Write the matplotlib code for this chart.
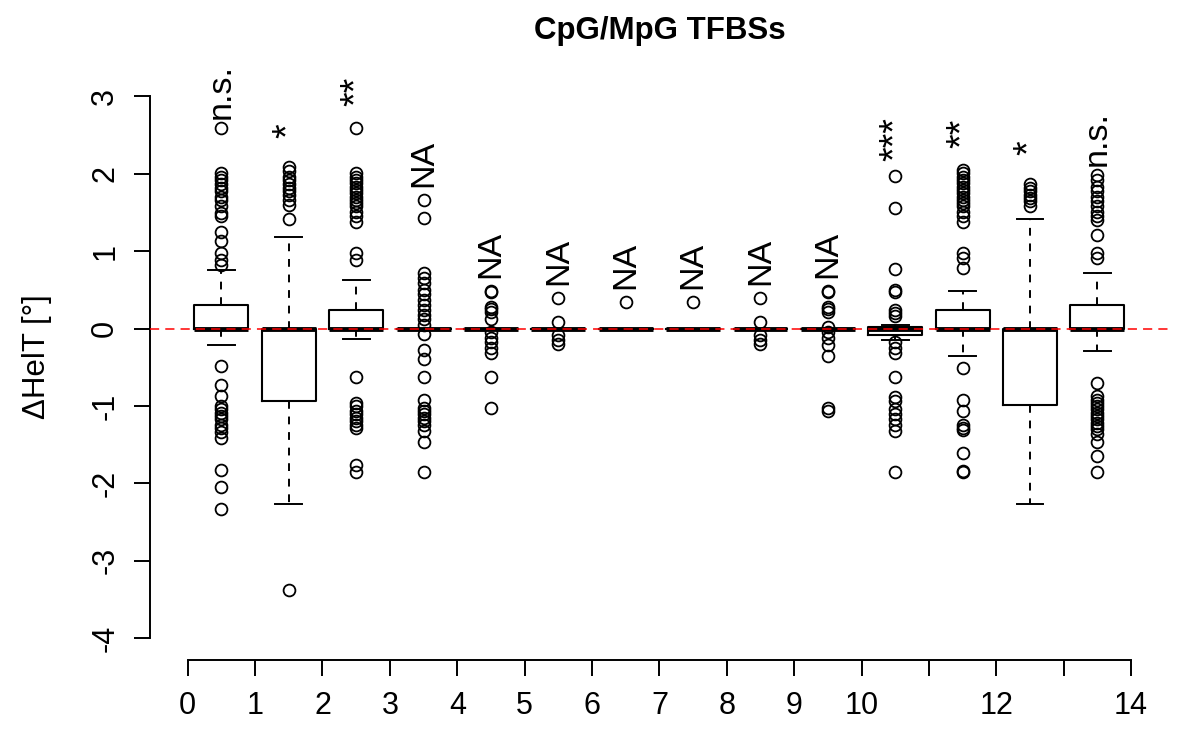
import numpy as np
import matplotlib
matplotlib.use("Agg")
import matplotlib.pyplot as plt

plt.rcParams['font.family'] = ['Liberation Sans', 'DejaVu Sans']

# --- dane ---
positions = [0.5, 1.5, 2.5, 3.5, 4.5, 5.5, 6.5, 7.5, 8.5, 9.5, 10.5, 11.5, 12.5, 13.5]
q1 = [0, -0.93, 0, 0, 0, 0, 0, 0, 0, 0, -0.08, 0, -0.99, 0]
med = [0, 0, 0, 0, 0, 0, 0, 0, 0, 0, 0, 0, 0, 0]
q3 = [0.30, 0, 0.245, 0, 0, 0, 0, 0, 0, 0, 0.02, 0.245, 0, 0.31]
whislo = [-0.21, -2.26, -0.13, 0, 0, 0, 0, 0, 0, 0, -0.15, -0.35, -2.27, -0.29]
whishi = [0.75, 1.18, 0.62, 0, 0, 0, 0, 0, 0, 0, 0.05, 0.49, 1.41, 0.72]

fliers = [
    [2.59, 2.01, 1.96, 1.92, 1.87, 1.81, 1.77, 1.70, 1.66, 1.58, 1.49, 1.45, 1.25, 1.13, 0.98, 0.89, 0.82,
     -0.48, -0.73, -0.87, -1.00, -1.04, -1.09, -1.13, -1.17, -1.24, -1.28, -1.34, -1.42, -1.83, -2.04, -2.33],
    [2.09, 2.03, 1.96, 1.92, 1.86, 1.81, 1.77, 1.73, 1.66, 1.60, 1.41, -3.38],
    [2.59, 2.01, 1.96, 1.92, 1.88, 1.83, 1.79, 1.75, 1.70, 1.66, 1.62, 1.58, 1.51, 1.45, 1.38, 0.98, 0.89,
     -0.63, -0.96, -1.00, -1.07, -1.11, -1.15, -1.19, -1.24, -1.28, -1.76, -1.85],
    [1.66, 1.43, 0.72, 0.65, 0.59, 0.50, 0.44, 0.37, 0.31, 0.24, 0.18, 0.12, 0.05,
     -0.07, -0.28, -0.40, -0.62, -0.92, -1.02, -1.07, -1.11, -1.15, -1.19, -1.24, -1.32, -1.47, -1.85],
    [0.49, 0.47, 0.28, 0.25, 0.21, 0.12, -0.05, -0.12, -0.18, -0.25, -0.31, -0.62, -1.02],
    [0.40, 0.09, -0.08, -0.15, -0.20],
    [0.34],
    [0.34],
    [0.40, 0.09, -0.08, -0.15, -0.20],
    [0.49, 0.47, 0.28, 0.25, 0.21, 0.02, -0.05, -0.12, -0.21, -0.35, -1.02, -1.07],
    [1.97, 1.56, 0.77, 0.50, 0.47, 0.24, 0.20, 0.16,
     -0.18, -0.25, -0.31, -0.63, -0.89, -0.93, -1.04, -1.10, -1.17, -1.24, -1.32, -1.85],
    [2.05, 2.01, 1.96, 1.92, 1.88, 1.83, 1.79, 1.75, 1.70, 1.66, 1.62, 1.58, 1.51, 1.45, 1.38, 0.98, 0.91, 0.78,
     -0.51, -0.92, -1.07, -1.24, -1.28, -1.31, -1.61, -1.84, -1.85],
    [1.86, 1.81, 1.77, 1.73, 1.68, 1.64, 1.58],
    [1.98, 1.92, 1.83, 1.77, 1.70, 1.64, 1.58, 1.51, 1.45, 1.40, 1.21, 0.98, 0.91,
     -0.70, -0.87, -0.92, -0.96, -1.00, -1.04, -1.09, -1.13, -1.17, -1.22, -1.26, -1.30, -1.36, -1.47, -1.65, -1.85],
]

signif = ['n.s.', '*', '**', 'NA', 'NA', 'NA', 'NA', 'NA', 'NA', 'NA', '***', '**', '*', 'n.s.']

x_ticks = list(range(15))
x_ticklabels = ['0', '1', '2', '3', '4', '5', '6', '7', '8', '9', '10', '', '12', '', '14']
y_ticks = [-4, -3, -2, -1, 0, 1, 2, 3]

# --- rysunek ---
fig = plt.figure(figsize=(12, 7.5), dpi=100)
ax = fig.add_axes([0.125, 0.12, 0.849, 0.7807])

stats = []
for i in range(len(positions)):
    stats.append(dict(med=med[i], q1=q1[i], q3=q3[i], whislo=whislo[i], whishi=whishi[i], fliers=fliers[i]))

ax.bxp(stats, positions=positions, widths=0.8, capwidths=0.4,
       boxprops=dict(color='black', linewidth=1.5),
       medianprops=dict(color='black', linewidth=3.5, solid_capstyle='butt'),
       whiskerprops=dict(color='black', linewidth=1.4, linestyle=(0, (4, 4))),
       capprops=dict(color='black', linewidth=1.4),
       flierprops=dict(marker='o', markerfacecolor='none', markeredgecolor='black',
                       markersize=8.5, markeredgewidth=1.3))

ax.axhline(0, color='red', linewidth=1.1, linestyle=(0, (6, 4)), zorder=5)

# etykiety istotności nad każdą grupą
for i, lab in enumerate(signif):
    top = max(max(fliers[i]), whishi[i])
    fs = 27 if lab.startswith('*') else 24.5  # gwiazdki w Liberation są mniejsze
    ax.text(positions[i], top + 0.47, lab, rotation=90, ha='center', va='center', fontsize=fs)

ax.set_xlim(-0.56, 14.56)
ax.set_ylim(-4.28, 3.28)
ax.set_xticks(x_ticks)
ax.set_xticklabels(x_ticklabels)
ax.set_yticks(y_ticks)
ax.set_yticklabels([str(v) for v in y_ticks], rotation=90, va='center')

for s in ['top', 'right']:
    ax.spines[s].set_visible(False)
ax.spines['left'].set_bounds(-4, 3)
ax.spines['bottom'].set_bounds(0, 14)
ax.spines['left'].set_linewidth(1.4)
ax.spines['bottom'].set_linewidth(1.4)
ax.tick_params(axis='both', direction='out', length=11.5, width=1.4, labelsize=22)
ax.tick_params(axis='x', pad=11)
ax.tick_params(axis='y', pad=10)

fig.text(37.5 / 1200, 1 - 357 / 750, 'ΔHelT [°]', rotation=90, ha='center', va='center', fontsize=22.5)
ax.text(0.5, 1.074, 'CpG/MpG TFBSs', transform=ax.transAxes, ha='center', va='center',
        fontsize=22.5, fontweight='bold')

fig.savefig('out.png', dpi=100)
